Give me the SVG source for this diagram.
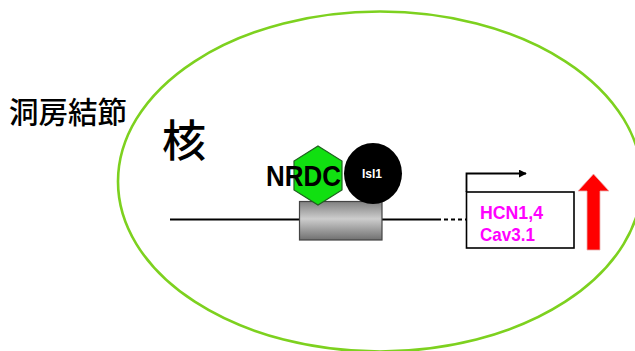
<svg xmlns="http://www.w3.org/2000/svg" width="635" height="351" viewBox="0 0 635 351">
  <defs>
    <linearGradient id="boxGrad" x1="0" y1="0" x2="0" y2="1">
      <stop offset="0" stop-color="#808080"/>
      <stop offset="0.45" stop-color="#cdcdcd"/>
      <stop offset="1" stop-color="#707070"/>
    </linearGradient>
    <marker id="arrowHead" viewBox="0 0 10 10" refX="9" refY="5" markerWidth="8" markerHeight="8" markerUnits="userSpaceOnUse" orient="auto">
      <path d="M0,0 L10,5 L0,10 Z" fill="#000"/>
    </marker>
    <style>
      .jp { font-family: "Noto Sans CJK JP", "Noto Sans CJK SC", sans-serif; fill: #000; font-weight: 500; }
      .lbl { font-family: "Liberation Sans", Arial, sans-serif; font-weight: bold; }
      .mag { fill: #ff00ff; }
      .dna { stroke: #000; stroke-width: 1.8; fill: none; }
    </style>
  </defs>
  <rect width="635" height="351" fill="#fff"/>

  <g id="nucleus">
    <ellipse cx="380" cy="181.5" rx="262" ry="170" fill="none" stroke="#7dd11f" stroke-width="2.6"/>
  </g>

  <g id="title-labels">
    <text class="jp" x="9" y="123" font-size="29.5">洞房結節</text>
    <text class="jp" x="162" y="157" font-size="44">核</text>
  </g>

  <g id="connectors">
    <line class="dna" x1="170" y1="219.5" x2="437" y2="219.5"/>
    <line class="dna" x1="437" y1="219.5" x2="466" y2="219.5" stroke-dasharray="4,3"/>
    <polyline class="dna" points="466.5,192 466.5,173.5 526,173.5" stroke-width="1.5" marker-end="url(#arrowHead)"/>
  </g>

  <g id="promoter">
    <rect x="299.5" y="201.5" width="82.5" height="38.5" fill="url(#boxGrad)" stroke="#444" stroke-width="1.2"/>
  </g>

  <g id="nrdc">
    <polygon points="318,146 342,161 342,190 318,205 294,190 294,161" fill="#11e011" stroke="#1f5f1f" stroke-width="1.2"/>
    <text class="lbl" x="266" y="186" font-size="29" textLength="75" lengthAdjust="spacingAndGlyphs" fill="#000">NRDC</text>
  </g>

  <g id="isl1">
    <ellipse cx="373" cy="173.5" rx="29" ry="30.5" fill="#000"/>
    <text class="lbl" x="372" y="178" font-size="12" text-anchor="middle" fill="#fff">Isl1</text>
  </g>

  <g id="gene">
    <rect x="466.5" y="192" width="107.5" height="56" fill="#fff" stroke="#000" stroke-width="1.6"/>
    <text class="lbl mag" x="480" y="219" font-size="19" textLength="63" lengthAdjust="spacingAndGlyphs">HCN1,4</text>
    <text class="lbl mag" x="480" y="241" font-size="19" textLength="55" lengthAdjust="spacingAndGlyphs">Cav3.1</text>
  </g>

  <g id="up-arrow">
    <polygon points="593.5,174 609,191 600,191 600,250 587,250 587,191 578,191" fill="#ff0000" stroke="#e8b0b0" stroke-width="0.8"/>
  </g>
</svg>
